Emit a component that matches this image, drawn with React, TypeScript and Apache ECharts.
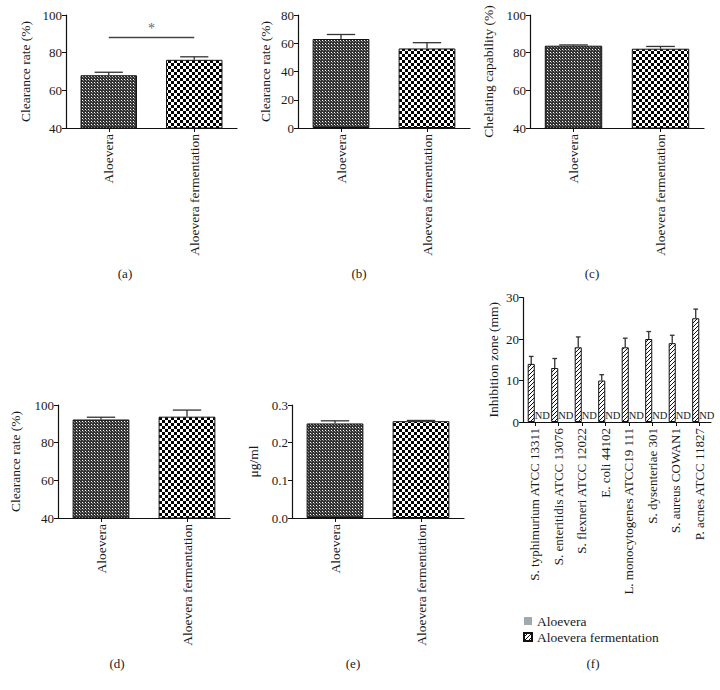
import React, { useEffect, useRef } from 'react';
import * as echarts from 'echarts';

const twoCats = ['Aloevera', 'Aloevera fermentation'];
const aMeans = [68, 76.2];
const aErrs = [1.6, 1.6];
const aSignif = 88;
const bMeans = [63, 56.3];
const bErrs = [3.2, 4.1];
const cMeans = [83.7, 82.1];
const cErrs = [0.4, 1.2];
const dMeans = [92.3, 93.8];
const dErrs = [1.2, 3.5];
const eMeans = [0.251, 0.257];
const eErrs = [0.007, 0.002];

const strains = [
  'S. typhimurium ATCC 13311',
  'S. enteritidis ATCC 13076',
  'S. flexneri ATCC 12022',
  'E. coli 44102',
  'L. monocytogenes ATCC19 111',
  'S. dysenteriae 301',
  'S. aureus COWAN1',
  'P. acnes ATCC 11827',
];
const fFerment = [14, 13, 18, 10, 18, 20, 19, 25];
const fErrs = [1.8, 2.3, 2.5, 1.4, 2.2, 1.8, 1.9, 2.2];
const fAloe = [0, 0, 0, 0, 0, 0, 0, 0];

const captions = ['(a)', '(b)', '(c)', '(d)', '(e)', '(f)'];

const FONT = '"Liberation Serif", "DejaVu Serif", serif';

function tile(w: number, h: number, draw: (ctx: CanvasRenderingContext2D) => void) {
  const c = document.createElement('canvas');
  c.width = w;
  c.height = h;
  const ctx = c.getContext('2d') as CanvasRenderingContext2D;
  draw(ctx);
  return c;
}

export default function App() {
  const ref = useRef<HTMLDivElement>(null);
  useEffect(() => {
    if (!ref.current) return;
    const chart = echarts.init(ref.current, null, { renderer: 'svg' });

    const finePat = tile(3, 3, (ctx) => {
      ctx.fillStyle = '#333333';
      ctx.fillRect(0, 0, 3, 3);
      ctx.fillStyle = '#ffffff';
      ctx.fillRect(1, 1, 1, 1);
      ctx.fillStyle = '#8a8a8a';
      ctx.fillRect(2, 2, 1, 1);
    });
    const checkPat = tile(6, 6, (ctx) => {
      ctx.fillStyle = '#ffffff';
      ctx.fillRect(0, 0, 6, 6);
      ctx.fillStyle = '#000000';
      ctx.fillRect(0, 0, 3, 3);
      ctx.fillRect(3, 3, 3, 3);
    });
    const hatchPat = tile(4, 4, (ctx) => {
      ctx.fillStyle = '#ffffff';
      ctx.fillRect(0, 0, 4, 4);
      ctx.fillStyle = '#111111';
      for (let i = 0; i < 4; i++) ctx.fillRect(i, 3 - i, 1, 1);
    });
    const fine = { image: finePat, repeat: 'repeat' };
    const check = { image: checkPat, repeat: 'repeat' };
    const hatch = { image: hatchPat, repeat: 'repeat' };

    const grids = [
      { left: 66, top: 15, width: 171, height: 113 },
      { left: 298, top: 15, width: 172, height: 113 },
      { left: 530, top: 15, width: 174, height: 113 },
      { left: 58, top: 405, width: 172, height: 113 },
      { left: 292, top: 405, width: 172, height: 113 },
      { left: 523, top: 297.5, width: 188, height: 124.5 },
    ];

    const axisLine = { show: true, lineStyle: { color: '#111', width: 1.2 } };
    const axisTick = { show: true, length: 4, lineStyle: { color: '#111', width: 1 } };
    const labelStyle = { fontFamily: FONT, fontSize: 13, color: '#1a1a1a' };

    const xAxis = grids.map((_, i) => ({
      type: 'category',
      gridIndex: i,
      data: i === 5 ? strains : twoCats,
      axisLine,
      axisTick: { ...axisTick, alignWithLabel: true },
      axisLabel: { ...labelStyle, rotate: 90, margin: 6, interval: 0, fontSize: i === 5 ? 13 : 13.5 },
    }));

    const yCfg = [
      { min: 40, max: 100, interval: 20, name: 'Clearance rate (%)', gap: 34 },
      { min: 0, max: 80, interval: 20, name: 'Clearance rate (%)', gap: 26 },
      { min: 40, max: 100, interval: 20, name: 'Chelating capability (%)', gap: 35 },
      { min: 40, max: 100, interval: 20, name: 'Clearance rate (%)', gap: 36 },
      { min: 0, max: 0.3, interval: 0.1, name: 'μg/ml', gap: 32 },
      { min: 0, max: 30, interval: 10, name: 'Inhibition zone (mm)', gap: 23 },
    ];
    const yAxis = yCfg.map((c, i) => ({
      type: 'value',
      gridIndex: i,
      min: c.min,
      max: c.max,
      interval: c.interval,
      name: c.name,
      nameLocation: 'middle',
      nameRotate: 90,
      nameGap: c.gap,
      nameTextStyle: { fontFamily: FONT, fontSize: 13.5, color: '#1a1a1a' },
      splitLine: { show: false },
      axisLine,
      axisTick,
      axisLabel: {
        ...labelStyle,
        margin: 4,
        formatter: i === 4 ? (v: number) => v.toFixed(1) : undefined,
      },
    }));

    const errSeries = (idx: number, means: number[], errs: number[], offsetFrac: number, capFrac: number) => ({
      type: 'custom',
      name: 'err' + idx,
      xAxisIndex: idx,
      yAxisIndex: idx,
      silent: true,
      z: 5,
      encode: { x: 0, y: [1, 2] },
      data: means.map((m, i) => [i, m, m + errs[i]]),
      renderItem: (_p: any, api: any) => {
        const band = api.size([1, 0])[0];
        const top = api.coord([api.value(0), api.value(2)]);
        const bot = api.coord([api.value(0), api.value(1)]);
        const x = top[0] + band * offsetFrac;
        const cw = band * capFrac;
        return {
          type: 'group',
          children: [
            { type: 'line', shape: { x1: x, y1: bot[1], x2: x, y2: top[1] }, style: { stroke: '#333', lineWidth: 1.3 } },
            { type: 'line', shape: { x1: x - cw / 2, y1: top[1], x2: x + cw / 2, y2: top[1] }, style: { stroke: '#333', lineWidth: 1.3 } },
          ],
        };
      },
    });

    const panels = [aMeans, bMeans, cMeans, dMeans, eMeans];
    const panelErrs = [aErrs, bErrs, cErrs, dErrs, eErrs];
    const series: any[] = [];
    panels.forEach((means, i) => {
      const s: any = {
        type: 'bar',
        name: 'panel' + i,
        xAxisIndex: i,
        yAxisIndex: i,
        barWidth: '66%',
        data: means.map((v, j) => ({
          value: v,
          itemStyle: { color: j === 0 ? fine : check, borderColor: '#111', borderWidth: 1 },
        })),
      };
      if (i === 0) {
        s.markLine = {
          silent: true,
          symbol: 'none',
          lineStyle: { color: '#444', type: 'solid', width: 1.3 },
          label: { show: true, position: 'middle', formatter: '*', fontFamily: FONT, fontSize: 14, color: '#666', distance: 2 },
          data: [[{ coord: [0, aSignif] }, { coord: [1, aSignif] }]],
        };
      }
      series.push(s);
      series.push(errSeries(i, means, panelErrs[i], 0, 0.33));
    });

    series.push({
      type: 'bar',
      name: 'Aloevera fermentation',
      xAxisIndex: 5,
      yAxisIndex: 5,
      barWidth: '30%',
      barGap: '0%',
      itemStyle: { color: hatch, borderColor: '#111', borderWidth: 1 },
      data: fFerment,
    });
    series.push({
      type: 'bar',
      name: 'Aloevera',
      xAxisIndex: 5,
      yAxisIndex: 5,
      barWidth: '30%',
      barGap: '0%',
      itemStyle: { color: '#9ea9b0' },
      label: {
        show: true,
        position: [0, -1],
        align: 'left',
        verticalAlign: 'bottom',
        formatter: 'ND',
        fontFamily: FONT,
        fontSize: 10.5,
        color: '#222',
      },
      data: fAloe,
    });
    series.push(errSeries(5, fFerment, fErrs, -0.15, 0.2));

    const capPos = [
      [125, 273], [359, 273], [592, 273],
      [117, 663], [353, 663], [593, 663],
    ];

    chart.setOption({
      animation: false,
      backgroundColor: '#fff',
      grid: grids,
      xAxis,
      yAxis,
      series,
      legend: {
        orient: 'vertical',
        left: 518,
        top: 609,
        icon: 'rect',
        itemWidth: 8,
        itemHeight: 8,
        itemGap: 2,
        data: ['Aloevera', 'Aloevera fermentation'],
        textStyle: { fontFamily: FONT, fontSize: 13.5, color: '#1a1a1a' },
        selectedMode: false,
      },
      graphic: captions.map((t, i) => ({
        type: 'text',
        x: capPos[i][0],
        y: capPos[i][1],
        style: {
          text: t,
          fontFamily: FONT,
          fontSize: 13,
          fill: '#1a1a1a',
          textAlign: 'center',
          textVerticalAlign: 'middle',
        },
      })),
    });
    return () => chart.dispose();
  }, []);
  return (
    <div
      ref={ref}
      style={{ position: 'absolute', left: 0, top: 0, width: 720, height: 690, background: '#fff' }}
    />
  );
}
